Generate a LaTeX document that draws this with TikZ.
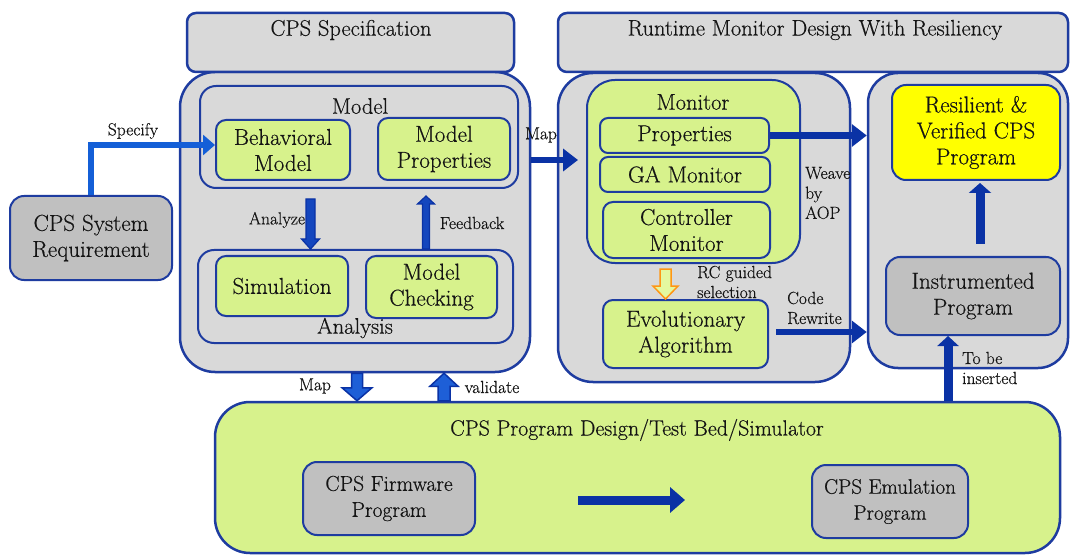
\documentclass[tikz,border=0pt]{standalone}
\usepackage{fontspec}
\setmainfont{Latin Modern Roman}[FakeBold=0.45]
\usetikzlibrary{arrows.meta,calc}
\definecolor{bordc}{RGB}{30,60,160}
\definecolor{grayf}{RGB}{217,217,217}
\definecolor{dgrayf}{RGB}{192,192,192}
\definecolor{greenf}{RGB}{215,242,140}
\definecolor{yellowf}{RGB}{255,255,0}
\definecolor{arrc}{RGB}{10,50,165}
\definecolor{arrmid}{RGB}{20,70,190}
\definecolor{arrlight}{RGB}{30,95,215}
\definecolor{specc}{RGB}{20,95,215}
\definecolor{orangec}{RGB}{255,150,20}
\definecolor{ofill}{RGB}{228,248,160}
\definecolor{txtc}{RGB}{20,20,20}
\newcommand\dgmMain{\fontsize{23}{26}\selectfont}
\newcommand\dgmTtl{\fontsize{22.5}{26}\selectfont}
\newcommand\dgmHdr{\fontsize{22.5}{26}\selectfont}
\newcommand\dgmLbl{\fontsize{17.5}{20}\selectfont}
\newcommand\blockarrow[6]{%
  \draw[#1] let \p1=#2, \p2=#3, \n1={sign(\y2-\y1)} in
    (\x1-#4,\y1) -- (\x1-#4,{\y2-(\n1)*#6}) -- (\x1-#5,{\y2-(\n1)*#6}) -- (\x1,\y2)
    -- (\x1+#5,{\y2-(\n1)*#6}) -- (\x1+#4,{\y2-(\n1)*#6}) -- (\x1+#4,\y1) -- cycle;}
\begin{document}
\begin{tikzpicture}[x=1pt,y=-1pt,
  box/.style={draw=bordc, line width=2pt, rounded corners=10pt, inner sep=0pt, align=center, font=\dgmMain, text=txtc},
  graybig/.style={box, fill=grayf, line width=2.5pt, rounded corners=35pt},
  hdr/.style={box, fill=grayf, line width=2.5pt, rounded corners=9pt},
  subbox/.style={box, fill=grayf, rounded corners=16pt},
  grn/.style={box, fill=greenf},
  dgr/.style={box, fill=dgrayf, rounded corners=14pt},
  ylw/.style={box, fill=yellowf, rounded corners=14pt},
  lbl/.style={font=\dgmLbl, inner sep=0pt, align=left, text=txtc},
  ttl/.style={font=\dgmTtl, inner sep=0pt, text=txtc},
  httl/.style={font=\dgmHdr, inner sep=0pt, text=txtc},
  fat/.style={draw=arrc, line width=6.5pt, -{Triangle[length=15pt,width=22pt]}},
  blk/.style={draw=arrc, fill=arrlight, line width=1.5pt},
  blkd/.style={draw=arrc, fill=arrmid, line width=1.2pt},
  blko/.style={draw=orangec, fill=ofill, line width=1.5pt}
]
\fill[white] (0,0) rectangle (1071,556);
\useasboundingbox (0,0) rectangle (1071,556);

% containers
\node[graybig, minimum width=350pt, minimum height=300pt] (specBig) at (355,222) {};
\node[graybig, minimum width=292pt, minimum height=309pt] (runBig) at (704,227.5) {};
\node[graybig, rounded corners=30pt, minimum width=200pt, minimum height=295pt] (rightBig) at (968,220.5) {};
\node[graybig, fill=greenf, minimum width=845pt, minimum height=151pt] (bottom) at (637.5,477.5) {};
\node[hdr, minimum width=327pt, minimum height=59pt] (hdrSpec) at (350.5,42.5) {};
\node[hdr, minimum width=510pt, minimum height=59pt] (hdrRun) at (813,42.5) {};
\node[httl] (tSpec) at (351,30) {CPS Specification};
\node[httl] (tRun) at (815,30) {Runtime Monitor Design With Resiliency};

% CPS specification
\node[subbox, minimum width=318pt, minimum height=102pt] (modelBox) at (359,137) {};
\node[subbox, minimum width=315pt, minimum height=93pt] (anaBox) at (355.5,296.5) {};
\node[ttl] (tModel) at (360,106) {Model};
\node[ttl] (tAna) at (355,328) {Analysis};
\node[grn, minimum width=134pt, minimum height=60pt] (behav) at (283,150) {Behavioral\\Model};
\node[grn, minimum width=132pt, minimum height=62pt] (mprop) at (444,149) {Model\\Properties};
\node[grn, minimum width=132pt, minimum height=60pt] (sim) at (282,286) {Simulation};
\node[grn, minimum width=131pt, minimum height=62pt] (mcheck) at (431.5,287) {Model\\Checking};
\node[dgr, minimum width=162pt, minimum height=84pt] (req) at (91,238) {CPS System\\Requirement};

% runtime monitor
\node[grn, rounded corners=28pt, minimum width=213pt, minimum height=183pt] (monitor) at (693.5,171.5) {};
\node[ttl] (tMon) at (693,102) {Monitor};
\node[grn, rounded corners=8pt, minimum width=169pt, minimum height=35pt] (props) at (684.5,135.5) {Properties};
\node[grn, rounded corners=8pt, minimum width=170pt, minimum height=35pt] (gamon) at (685,174.5) {GA Monitor};
\node[grn, minimum width=167pt, minimum height=56pt] (ctrl) at (686.5,230) {Controller\\Monitor};
\node[grn, minimum width=165pt, minimum height=68pt] (evo) at (685.5,334) {Evolutionary\\Algorithm};

% right column
\node[ylw, minimum width=168pt, minimum height=95pt] (resil) at (976,132.5) {Resilient \&\\Verified CPS\\Program};
\node[dgr, minimum width=174pt, minimum height=78pt] (instr) at (973,296) {Instrumented\\Program};

% bottom
\node[ttl, font=\fontsize{22}{26}\selectfont] (tBot) at (637,430) {CPS Program Design/Test Bed/Simulator};
\node[dgr, font=\fontsize{21.5}{26}\selectfont, minimum width=172pt, minimum height=73pt] (firm) at (389,498.5) {CPS Firmware\\Program};
\node[dgr, font=\fontsize{21}{26}\selectfont, minimum width=156pt, minimum height=73pt] (emul) at (890,501.5) {CPS Emulation\\Program};

% labels
\node[lbl] (lSpec) at (133,131) {Specify};
\node[lbl] (lAna) at (277,220) {Analyze};
\node[lbl] (lFb) at (472,223) {Feedback};
\node[lbl] (lMap1) at (541,135) {Map};
\node[lbl] (lMap2) at (315,386) {Map};
\node[lbl] (lVal) at (492,387) {validate};
\node[lbl, anchor=west] (lWeave) at (805,193) {Weave\\by\\AOP};
\node[lbl, anchor=west] (lRC) at (697,282) {RC guided\\selection};
\node[lbl, anchor=west] (lCode) at (787,308) {Code\\Rewrite};
\node[lbl, anchor=west] (lIns) at (962,368) {To be\\inserted};

% coordinates
\coordinate (mapy) at (0,160);
\coordinate (mapx) at (357,0);
\coordinate (valx) at (444,0);
\coordinate (anx) at (310.5,0);
\coordinate (fbx) at (426,0);
\coordinate (orx) at (665.5,0);
\coordinate (upx) at (980,0);
\coordinate (tbx) at (948,0);
\coordinate (ba1) at (578,500);
\coordinate (ba2) at (685,500);
\coordinate (crs) at ($(evo.east)+(7,-2)$);

% arrows
\draw[draw=specc, line width=6.5pt, -{Triangle[length=12pt,width=20pt]}] (req.north) |- ($(behav.west)+(0,-5)$);
\draw[fat] (specBig.east |- mapy) -- ($(monitor.west |- mapy)+(-8,0)$);
\draw[fat] (props.east) -- (rightBig.west |- props.east);
\draw[fat] (crs) -- (rightBig.west |- crs);
\draw[fat, line width=9pt, -{Triangle[length=10pt,width=22pt]}] ($(upx |- instr.north)+(0,-12)$) -- ($(upx |- resil.south)+(0,2)$);
\draw[fat, line width=9pt, -{Triangle[length=10pt,width=21pt]}] (tbx |- bottom.north) -- (tbx |- instr.south);
\draw[fat, line width=9pt, -{Triangle[length=15pt,width=25pt]}] (ba1) -- (ba2);
\blockarrow{blk}{(mapx |- specBig.south)}{(mapx |- bottom.north)}{5.5pt}{15pt}{13pt}
\blockarrow{blk}{(valx |- bottom.north)}{(valx |- specBig.south)}{6pt}{14pt}{13pt}
\blockarrow{blkd}{($(anx |- modelBox.south)+(0,10)$)}{(anx |- anaBox.north)}{4.5pt}{9pt}{10pt}
\blockarrow{blkd}{(fbx |- anaBox.north)}{($(fbx |- modelBox.south)+(0,7)$)}{3.5pt}{8.5pt}{8pt}
\blockarrow{blko}{($(orx |- monitor.south)+(0,5)$)}{(orx |- evo.north)}{5.5pt}{12.5pt}{13pt}
\end{tikzpicture}
\end{document}
